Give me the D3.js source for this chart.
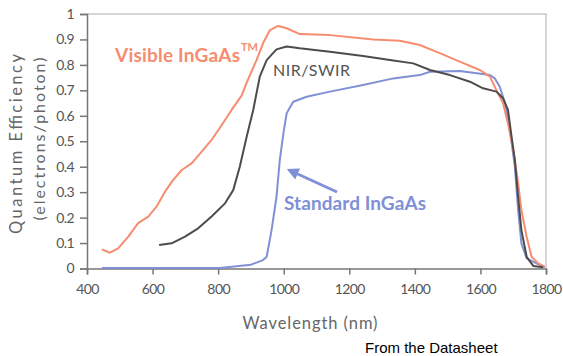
<!DOCTYPE html>
<html>
<head>
<meta charset="utf-8">
<script src="https://cdn.jsdelivr.net/npm/d3@7"></script>
<style>
  body { margin: 0; background: #fff; }
  text { font-family: Lato, 'Open Sans', sans-serif; }
</style>
</head>
<body>
<svg id="qe-chart" width="563" height="356"></svg>
<script>
// series (wavelength nm, QE electrons/photon)
let visWl = [445, 470, 495, 526, 556, 587, 612, 638, 663, 689, 719, 750, 780, 811, 841, 872, 887, 917, 937, 958, 983, 1009, 1049, 1141, 1273, 1354, 1415, 1476, 1537, 1598, 1629, 1649, 1669, 1684, 1700, 1715, 1725, 1741, 1756, 1776, 1796]
let visQe = [0.075, 0.062, 0.079, 0.125, 0.178, 0.204, 0.243, 0.302, 0.348, 0.387, 0.413, 0.459, 0.505, 0.564, 0.623, 0.68, 0.73, 0.819, 0.885, 0.937, 0.953, 0.944, 0.921, 0.917, 0.900, 0.895, 0.878, 0.846, 0.813, 0.780, 0.754, 0.700, 0.649, 0.570, 0.466, 0.335, 0.230, 0.125, 0.046, 0.020, 0.007]

let nirWl = [620, 658, 699, 739, 780, 821, 846, 866, 887, 907, 927, 948, 978, 1009, 1049, 1141, 1242, 1324, 1395, 1446, 1507, 1568, 1608, 1649, 1669, 1684, 1695, 1705, 1715, 1725, 1741, 1761, 1791]
let nirQe = [0.092, 0.099, 0.125, 0.158, 0.204, 0.256, 0.308, 0.40, 0.518, 0.623, 0.754, 0.819, 0.861, 0.872, 0.865, 0.852, 0.835, 0.819, 0.806, 0.780, 0.760, 0.734, 0.708, 0.695, 0.669, 0.623, 0.518, 0.426, 0.282, 0.151, 0.046, 0.010, 0.005]

let stdWl = [445, 805, 900, 937, 948, 963, 978, 988, 999, 1009, 1029, 1070, 1141, 1242, 1334, 1415, 1446, 1537, 1629, 1644, 1659, 1675, 1690, 1705, 1715, 1725, 1741, 1771, 1796]
let stdQe = [0.002, 0.002, 0.015, 0.033, 0.046, 0.151, 0.282, 0.426, 0.531, 0.61, 0.655, 0.675, 0.695, 0.721, 0.747, 0.76, 0.773, 0.776, 0.76, 0.747, 0.714, 0.649, 0.544, 0.40, 0.23, 0.099, 0.04, 0.02, 0.005]

let xTicks = [400, 600, 800, 1000, 1200, 1400, 1600, 1800]
let yTicks = [0, 0.1, 0.2, 0.3, 0.4, 0.5, 0.6, 0.7, 0.8, 0.9, 1]

function main() {
    let svg = d3.select('#qe-chart'),
        margin = {top: 14, bottom: 87.5, left: 87, right: 17}
    let width = +svg.attr('width') - margin.left - margin.right,
        height = +svg.attr('height') - margin.top - margin.bottom

    let xScale = d3.scaleLinear().domain([400, 1800]).range([margin.left, margin.left + width]),
        yScale = d3.scaleLinear().domain([0, 1]).range([margin.top + height, margin.top])

    // light frame top and right
    svg.append('path')
        .attr('d', 'M' + xScale(400) + ',' + yScale(1) + 'H' + xScale(1800) + 'V' + yScale(0))
        .attr('fill', 'none')
        .attr('stroke', '#c8c8c8')
        .attr('stroke-width', 1.5)

    let xAxis = svg.append('g')
        .attr('transform', 'translate(0,' + yScale(0) + ')')
        .call(d3.axisBottom(xScale).tickValues(xTicks).tickSize(6).tickPadding(10).tickFormat(d3.format('d')))
    let yAxis = svg.append('g')
        .attr('transform', 'translate(' + margin.left + ',0)')
        .call(d3.axisLeft(yScale).tickValues(yTicks).tickSize(7).tickPadding(6).tickFormat(d => d === 0 || d === 1 ? d : d.toFixed(1)))

    ;[xAxis, yAxis].forEach(ax => {
        ax.select('.domain').attr('stroke', '#777').attr('stroke-width', 1.5)
        ax.selectAll('.tick line').attr('stroke', '#777').attr('stroke-width', 1.5)
        ax.selectAll('.tick text')
            .attr('fill', '#555')
            .attr('font-size', 14)
            .attr('letter-spacing', -0.6)
            .style('font-family', 'Lato, sans-serif')
    })

    let line = (wl, qe) => d3.line()
        .x(i => xScale(wl[i]))
        .y(i => yScale(qe[i]))(d3.range(wl.length))

    let series = [
        {wl: stdWl, qe: stdQe, color: '#8090d6'},
        {wl: visWl, qe: visQe, color: '#f68c70'},
        {wl: nirWl, qe: nirQe, color: '#4f4b4b'}
    ]
    series.forEach(s => {
        svg.append('path')
            .attr('d', line(s.wl, s.qe))
            .attr('fill', 'none')
            .attr('stroke', s.color)
            .attr('stroke-width', 2)
            .attr('stroke-linejoin', 'round')
    })

    // axis titles
    svg.append('text')
        .attr('transform', 'translate(22,144) rotate(-90)')
        .attr('text-anchor', 'middle')
        .attr('fill', '#666')
        .attr('font-size', 16.5)
        .attr('textLength', 180)
        .text('Quantum Efficiency')
    svg.append('text')
        .attr('transform', 'translate(45,139) rotate(-90)')
        .attr('text-anchor', 'middle')
        .attr('fill', '#666')
        .attr('font-size', 16)
        .attr('textLength', 163)
        .text('(electrons/photon)')
    svg.append('text')
        .attr('x', 310)
        .attr('y', 329)
        .attr('text-anchor', 'middle')
        .attr('fill', '#666')
        .attr('font-size', 16.5)
        .attr('textLength', 135)
        .text('Wavelength (nm)')

    svg.append('text')
        .attr('x', 365)
        .attr('y', 353)
        .attr('fill', '#000')
        .attr('font-size', 15)
        .style('font-family', "'Liberation Sans', Arial, sans-serif")
        .text('From the Datasheet')

    // series labels
    svg.append('text')
        .attr('x', 115)
        .attr('y', 62)
        .attr('fill', '#f68c70')
        .attr('font-size', 19)
        .attr('font-weight', 'bold')
        .attr('textLength', 125)
        .text('Visible InGaAs')
    svg.append('text')
        .attr('x', 241)
        .attr('y', 51)
        .attr('fill', '#f68c70')
        .attr('font-size', 11)
        .attr('font-weight', 'bold')
        .text('TM')
    svg.append('text')
        .attr('x', 273)
        .attr('y', 76)
        .attr('fill', '#555')
        .attr('font-size', 16)
        .attr('textLength', 77)
        .text('NIR/SWIR')
    svg.append('text')
        .attr('x', 284)
        .attr('y', 210)
        .attr('fill', '#8090d6')
        .attr('font-size', 19)
        .attr('font-weight', 'bold')
        .attr('textLength', 142)
        .text('Standard InGaAs')

    // arrow pointing at the standard curve
    svg.append('defs').append('marker')
        .attr('id', 'head')
        .attr('viewBox', '0 0 10 10')
        .attr('refX', 8).attr('refY', 5)
        .attr('markerWidth', 4).attr('markerHeight', 4)
        .attr('orient', 'auto')
        .append('path')
        .attr('d', 'M0,0L10,5L0,10Z')
        .attr('fill', '#8090d6')
    svg.append('line')
        .attr('x1', 337).attr('y1', 192)
        .attr('x2', 289).attr('y2', 170)
        .attr('stroke', '#8090d6')
        .attr('stroke-width', 3)
        .attr('marker-end', 'url(#head)')
}

main()
</script>
</body>
</html>
